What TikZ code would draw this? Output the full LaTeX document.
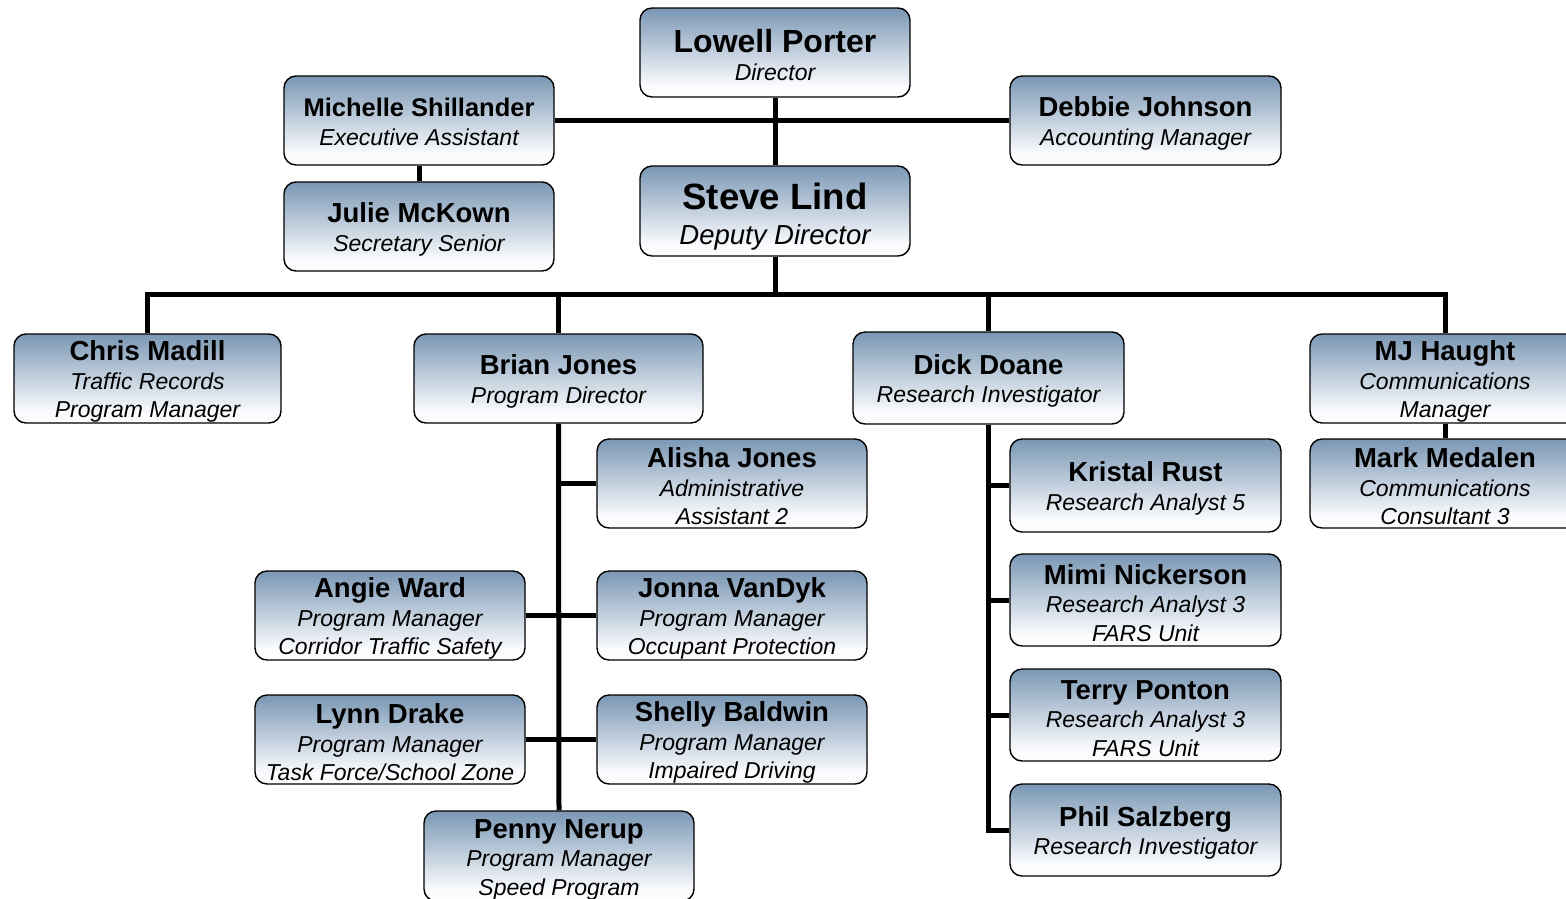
\documentclass[tikz,border=0pt]{standalone}
\usepackage{fontspec}
\setmainfont{Liberation Sans}
\usetikzlibrary{backgrounds}
\definecolor{topc}{RGB}{122,151,180}
\definecolor{midc}{RGB}{190,204,219}
\definecolor{botc}{RGB}{251,252,254}
% the path covers 25bp..75bp of the shading
\pgfdeclareverticalshading{boxshade}{100bp}{color(0bp)=(botc); color(25bp)=(botc); color(31bp)=(botc); color(52bp)=(midc); color(75bp)=(topc); color(100bp)=(topc)}
\newcommand\nm[1]{{\fontsize{27.5}{28}\selectfont\bfseries\upshape\rule{0pt}{26pt}#1}}
\tikzset{
  person/.style={draw=black, line width=1.4pt, rounded corners=12pt, shading=boxshade,
    minimum width=270pt, minimum height=89pt, inner sep=0pt, align=center,
    font=\fontsize{23}{28.5}\selectfont\itshape},
  link/.style={line width=5pt, line join=miter}
}
\begin{document}
\begin{tikzpicture}[x=1pt,y=-1pt]
\useasboundingbox (0,0) rectangle (1566,898);
% nodes
\node[person] (lowell) at (775,52.5) {{\fontsize{32}{28}\selectfont\bfseries\upshape\rule{0pt}{28.5pt}Lowell Porter}\\Director};
\node[person] (michelle) at (419,120.5) {{\fontsize{25.5}{28}\selectfont\bfseries\upshape\rule{0pt}{21pt}Michelle Shillander}\\Executive Assistant};
\node[person, minimum width=271pt] (debbie) at (1145.5,120.5) {\nm{Debbie Johnson}\\Accounting Manager};
\node[person] (julie) at (419,226.5) {\nm{Julie McKown}\\Secretary Senior};
\node[person, minimum height=90pt, font=\fontsize{27.5}{35}\selectfont\itshape] (steve) at (775,211) {{\fontsize{36.6}{35}\selectfont\bfseries\upshape\rule{0pt}{37pt}Steve Lind}\\Deputy Director};
\node[person, minimum width=267pt] (chris) at (147.5,378.5) {\nm{Chris Madill}\\Traffic Records\\Program Manager};
\node[person, minimum width=289pt] (brian) at (558.5,378.5) {\nm{Brian Jones}\\Program Director};
\node[person, minimum width=271pt, minimum height=92pt] (dick) at (988.5,378) {\nm{Dick Doane}\\Research Investigator};
\node[person] (mj) at (1445,378.5) {\nm{MJ Haught}\\Communications\\Manager};
\node[person] (mark) at (1445,483.5) {\nm{Mark Medalen}\\Communications\\Consultant 3};
\node[person] (alisha) at (732,483.5) {\nm{Alisha Jones}\\Administrative\\Assistant 2};
\node[person, minimum width=271pt, minimum height=93pt] (kristal) at (1145.5,485.5) {\nm{Kristal Rust}\\Research Analyst 5};
\node[person] (angie) at (390,615.5) {\nm{Angie Ward}\\Program Manager\\Corridor Traffic Safety};
\node[person] (jonna) at (732,615.5) {\nm{Jonna VanDyk}\\Program Manager\\Occupant Protection};
\node[person, minimum width=271pt, minimum height=92pt] (mimi) at (1145.5,600) {\nm{Mimi Nickerson}\\Research Analyst 3\\FARS Unit};
\node[person] (lynn) at (390,739.5) {\nm{Lynn Drake}\\Program Manager\\Task Force/School Zone};
\node[person] (shelly) at (732,739.5) {\nm{Shelly Baldwin}\\Program Manager\\Impaired Driving};
\node[person, minimum width=271pt, minimum height=92pt] (terry) at (1145.5,715) {\nm{Terry Ponton}\\Research Analyst 3\\FARS Unit};
\node[person, minimum width=271pt, minimum height=92pt] (phil) at (1145.5,830) {\nm{Phil Salzberg}\\Research Investigator};
\node[person, minimum height=90pt] (penny) at (559,856) {\nm{Penny Nerup}\\Program Manager\\Speed Program};
\coordinate (bus) at (775,294);
% connectors
\begin{scope}[on background layer]
\fill[white] (0,0) rectangle (1566,898);
\draw[link] (lowell.south) -- (steve.north);
\draw[link] (michelle.east) -- (debbie.west);
\draw[link] (michelle.south) -- (julie.north);
\draw[link] (steve.south) -- (bus);
\draw[link] (chris.north) -- (chris.north |- bus) -- (mj.north |- bus) -- (mj.north);
\draw[link] (brian.north) -- (brian.north |- bus);
\draw[link] (dick.north) -- (dick.north |- bus);
\draw[link] (mj.south) -- (mark.north);
\draw[link] (brian.south) -- (penny.north);
\draw[link] (alisha.west) -- (alisha.west -| brian.south);
\draw[link] (angie.east) -- (jonna.west);
\draw[link] (lynn.east) -- (shelly.west);
\draw[link] (dick.south) |- (phil.west);
\draw[link] (kristal.west) -- (kristal.west -| dick.south);
\draw[link] (mimi.west) -- (mimi.west -| dick.south);
\draw[link] (terry.west) -- (terry.west -| dick.south);
\end{scope}
\end{tikzpicture}
\end{document}
